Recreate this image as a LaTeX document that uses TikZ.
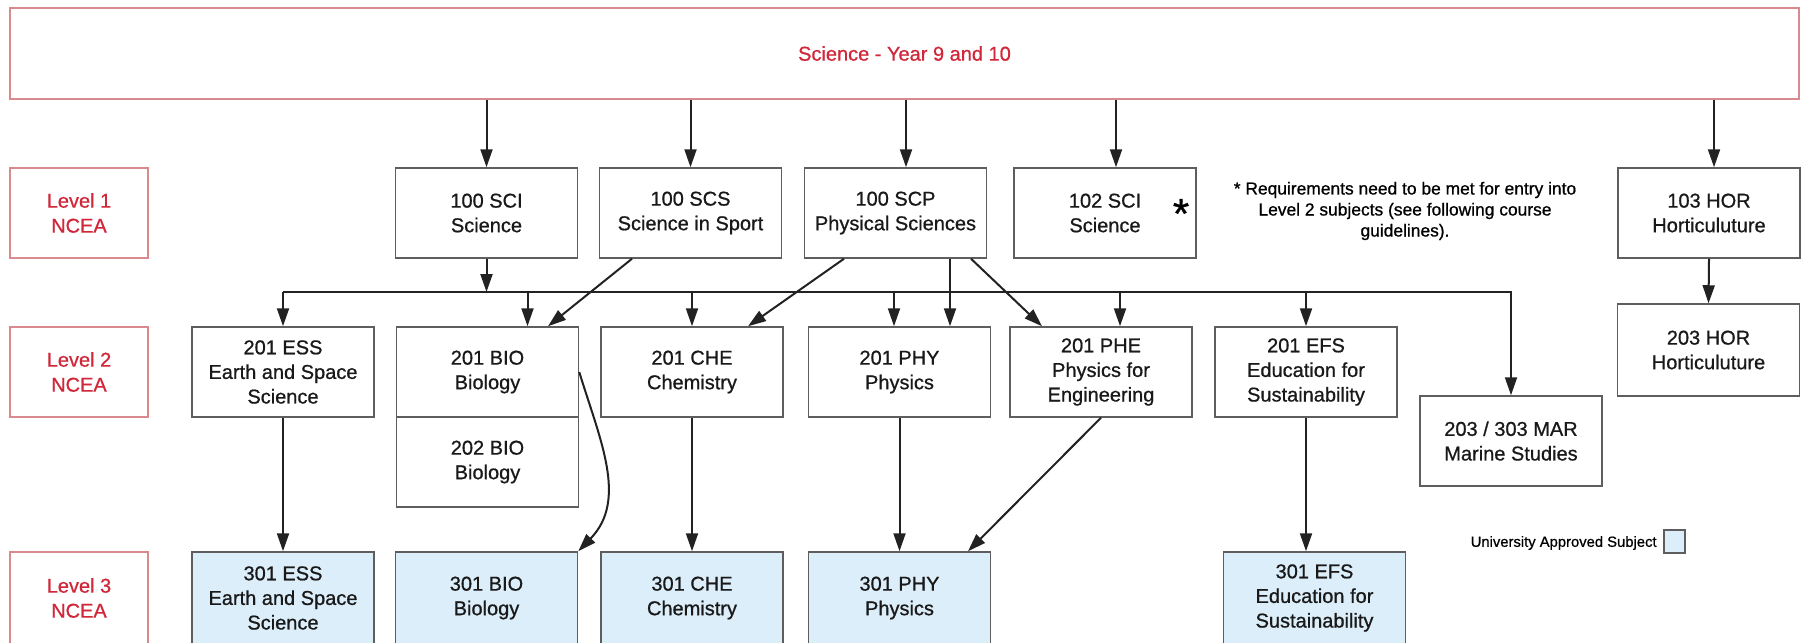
\documentclass[tikz,border=0pt]{standalone}
\usepackage{fontspec}
\setmainfont{Liberation Sans}[FakeBold=0.8]
\usetikzlibrary{arrows.meta,calc}
\definecolor{lvlred}{HTML}{D0283A}
\definecolor{lvlborder}{HTML}{D98A8F}
\definecolor{boxgray}{HTML}{5E5E5E}
\definecolor{linedark}{HTML}{222222}
\definecolor{uniblue}{HTML}{DCEEF9}
\begin{document}
\begin{tikzpicture}[x=0.5pt,y=-0.5pt,
  box/.style={draw=boxgray,line width=0.75pt,align=center,inner sep=1pt,minimum width=91pt,minimum height=45pt,text=black!90,font=\fontsize{10}{12.3}\selectfont},
  lvl/.style={draw=lvlborder,line width=0.75pt,align=center,minimum width=69pt,minimum height=45pt,text=lvlred,font=\fontsize{10}{12.5}\selectfont},
  uni/.style={box,fill=uniblue},
  arr/.style={draw=linedark,line width=1pt,-{Triangle[length=9pt,width=6pt]}},
  ln/.style={draw=linedark,line width=1pt}]
\useasboundingbox (0,0) rectangle (1802,642);
% top
\node[lvl,minimum width=894.5pt,minimum height=45.5pt] (top) at (904.5,53.5) {Science - Year 9 and 10};
% level labels
\node[lvl] (L1) at (79,213) {Level 1\\NCEA};
\node[lvl] (L2) at (79,372) {Level 2\\NCEA};
\node[lvl,minimum height=46pt] (L3) at (79,598) {Level 3\\NCEA};
% level 1
\node[box] (SCI100) at (486.5,213) {100 SCI\\Science};
\node[box] (SCS100) at (690.5,213) {100 SCS\\Science in Sport};
\node[box] (SCP100) at (895.5,213) {100 SCP\\Physical Sciences};
\node[box] (SCI102) at (1105,213) {102 SCI\\Science};
\node[font=\fontsize{21}{21}\selectfont,anchor=base,inner sep=0] (star) at (1181,228) {*};
\node[box] (HOR103) at (1709,213) {103 HOR\\Horticuluture};
\node[align=center,font=\fontsize{8.7}{10.5}\selectfont] (note) at (1405,211) {* Requirements need to be met for entry into\\Level 2 subjects (see following course\\guidelines).};
% level 2
\node[box] (ESS201) at (283,372) {201 ESS\\Earth and Space\\Science};
\node[box] (BIO201) at (487.5,372) {201 BIO\\Biology};
\node[box] (BIO202) at (487.5,462) {202 BIO\\Biology};
\node[box] (CHE201) at (692,372) {201 CHE\\Chemistry};
\node[box] (PHY201) at (899.5,372) {201 PHY\\Physics};
\node[box] (PHE201) at (1101,372) {201 PHE\\Physics for\\Engineering};
\node[box] (EFS201) at (1306,372) {201 EFS\\Education for\\Sustainability};
\node[box] (MAR) at (1511,441) {203 / 303 MAR\\Marine Studies};
\node[box,minimum height=46pt] (HOR203) at (1708.5,350) {203 HOR\\Horticuluture};
% level 3
\node[uni,minimum height=46pt] (ESS301) at (283,598) {301 ESS\\Earth and Space\\Science};
\node[uni,minimum height=46pt] (BIO301) at (486.5,598) {301 BIO\\Biology};
\node[uni,minimum height=46pt] (CHE301) at (692,598) {301 CHE\\Chemistry};
\node[uni,minimum height=46pt] (PHY301) at (899.5,598) {301 PHY\\Physics};
\node[uni,minimum height=46pt] (EFS301) at (1314.5,598) {301 EFS\\Education for\\Sustainability};
% legend
\node[anchor=east,inner sep=0,font=\fontsize{7.4}{9}\selectfont] (legtxt) at (1657,543) {University Approved Subject};
\node[draw=boxgray,fill=uniblue,line width=0.6pt,minimum width=10.5pt,minimum height=11.5pt,inner sep=0] (legsw) at (1674.5,541.5) {};
% helper coordinates
\coordinate (busy) at (0,292);
\coordinate (scpIn) at ($(SCP100.north)+(10.5,0)$);
\coordinate (sci2In) at ($(SCI102.north)+(11,0)$);
\coordinate (horIn) at ($(HOR103.north)+(5,0)$);
\coordinate (bioIn) at ($(BIO201.north)+(40,0)$);
\coordinate (phyIn) at ($(PHY201.north)+(-5.5,0)$);
\coordinate (phyIn2) at ($(PHY201.north)+(50.5,0)$);
\coordinate (pheIn) at ($(PHE201.north)+(19,0)$);
% top arrows
\draw[arr] (SCI100.north |- top.south) -- (SCI100.north);
\draw[arr] (SCS100.north |- top.south) -- (SCS100.north);
\draw[arr] (scpIn |- top.south) -- (scpIn);
\draw[arr] (sci2In |- top.south) -- (sci2In);
\draw[arr] (horIn |- top.south) -- (horIn);
% bus
\draw[arr] (ESS201.north |- busy) -- (MAR.north |- busy) -- (MAR.north);
\draw[arr] (SCI100.south) -- (SCI100.south |- busy);
\draw[arr] (ESS201.north |- busy) -- (ESS201.north);
\draw[arr] (bioIn |- busy) -- (bioIn);
\draw[arr] (CHE201.north |- busy) -- (CHE201.north);
\draw[arr] (phyIn |- busy) -- (phyIn);
\draw[arr] (pheIn |- busy) -- (pheIn);
\draw[arr] (EFS201.north |- busy) -- (EFS201.north);
\draw[arr] (phyIn2 |- SCP100.south) -- (phyIn2);
% diagonals
\draw[arr] ($(SCS100.south)+(-58.5,0)$) -- ($(BIO201.north)+(60.5,0)$);
\draw[arr] ($(SCP100.south)+(-51.5,0)$) -- ($(CHE201.north)+(56,0)$);
\draw[arr] ($(SCP100.south)+(75.5,0)$) -- ($(PHE201.north)+(-59,0)$);
\draw[arr] (PHE201.south) -- ($(PHY301.north)+(68.5,0)$);
\draw[arr] (BIO201.east) .. controls (600,440) and (628,500) .. (BIO301.north east);
% level 2 to 3
\draw[arr] (ESS201.south) -- (ESS301.north);
\draw[arr] (CHE201.south) -- (CHE301.north);
\draw[arr] (PHY201.south) -- (PHY301.north);
\draw[arr] (EFS201.south) -- (EFS201.south |- EFS301.north);
\draw[arr] (HOR103.south) -- (HOR203.north);
\end{tikzpicture}
\end{document}
